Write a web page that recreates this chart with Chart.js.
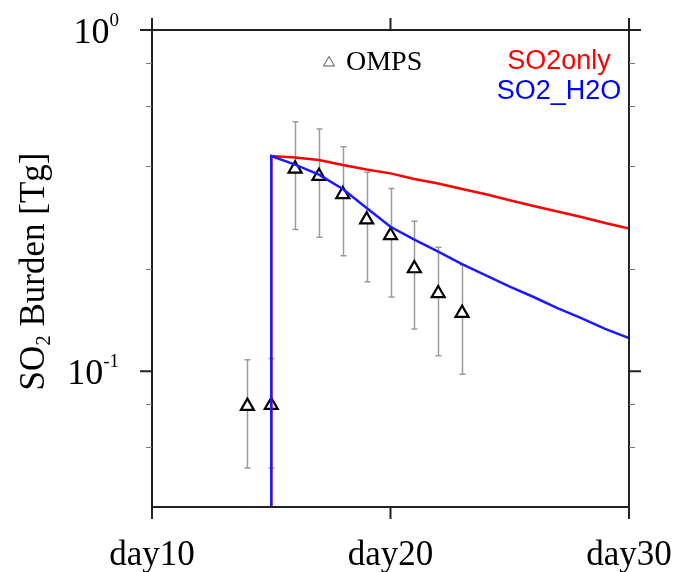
<!DOCTYPE html>
<html>
<head>
<meta charset="utf-8">
<script src="https://cdn.jsdelivr.net/npm/chart.js@4/dist/chart.umd.min.js"></script>
<style>
  html, body { margin: 0; padding: 0; background: #ffffff; }
  #wrap { width: 676px; height: 572px; }
</style>
</head>
<body>
<div id="wrap"><canvas id="c" width="676" height="572"></canvas></div>
<script>
// ---------------- data ----------------
const modelDays   = [15, 15, 16, 17, 18, 19, 20, 21, 22, 23, 24, 25, 26, 27, 28, 29, 30];
const so2only     = [0.001, 0.427, 0.423, 0.416, 0.402, 0.390, 0.380, 0.366, 0.355, 0.342, 0.330, 0.317, 0.305, 0.294, 0.283, 0.272, 0.262];
const so2h2o      = [0.001, 0.427, 0.403, 0.377, 0.342, 0.301, 0.265, 0.243, 0.224, 0.206, 0.191, 0.177, 0.165, 0.153, 0.143, 0.133, 0.125];

const ompsDays    = [14, 15, 16, 17, 18, 19, 20, 21, 22, 23];
const ompsValues  = [0.079, 0.0795, 0.392, 0.373, 0.330, 0.278, 0.250, 0.200, 0.169, 0.148];
const ompsHigh    = [0.108, 0.109, 0.538, 0.513, 0.455, 0.383, 0.343, 0.275, 0.231, 0.205];
const ompsLow     = [0.052, 0.052, 0.260, 0.247, 0.218, 0.183, 0.165, 0.133, 0.111, 0.098];

const xTicks      = [10, 20, 30];
const xTickLabels = ['day10', 'day20', 'day30'];
const yMajorTicks = [1, 0.1];
const yTickBase   = ['10', '10'];
const yTickExp    = ['0', '-1'];
const yMinorTicks = [0.8, 0.6, 0.4, 0.2, 0.08, 0.06];

const seriesNames = ['OMPS', 'SO2only', 'SO2_H2O'];
const yTitleMain  = 'SO';
const yTitleSub   = '2';
const yTitleRest  = ' Burden [Tg]';

// ---------------- chart ----------------
const SERIF = '"Liberation Serif", "Times New Roman", serif';
const SANS  = '"Liberation Sans", Arial, Helvetica, sans-serif';

const toXY = (xs, ys) => xs.map((x, i) => ({ x: x, y: ys[i] }));

const decorPlugin = {
  id: 'decor',
  beforeDatasetsDraw(chart) {
    const ctx = chart.ctx, xs = chart.scales.x, ys = chart.scales.y;
    ctx.save();
    ctx.strokeStyle = '#9a9a9a';
    ctx.lineWidth = 1.5;
    ompsDays.forEach((d, i) => {
      const px = Math.round(xs.getPixelForValue(d)) + 0.5;
      const yt = ys.getPixelForValue(ompsHigh[i]);
      const yb = ys.getPixelForValue(ompsLow[i]);
      ctx.beginPath();
      ctx.moveTo(px, yt); ctx.lineTo(px, yb);
      ctx.moveTo(px - 3, yt); ctx.lineTo(px + 3, yt);
      ctx.moveTo(px - 3, yb); ctx.lineTo(px + 3, yb);
      ctx.stroke();
    });
    ctx.restore();
  },
  afterDraw(chart) {
    const ctx = chart.ctx, xs = chart.scales.x, ys = chart.scales.y;
    const a = chart.chartArea;
    ctx.save();
    // frame
    ctx.strokeStyle = '#222';
    ctx.lineWidth = 2;
    ctx.strokeRect(a.left, a.top, a.right - a.left, a.bottom - a.top);
    // x major ticks (bottom & top, outward)
    ctx.beginPath();
    xTicks.forEach(v => {
      const px = xs.getPixelForValue(v);
      ctx.moveTo(px, a.bottom); ctx.lineTo(px, a.bottom + 12);
      ctx.moveTo(px, a.top);    ctx.lineTo(px, a.top - 12);
    });
    // y major ticks (left & right, outward)
    yMajorTicks.forEach(v => {
      const py = ys.getPixelForValue(v);
      ctx.moveTo(a.left, py);  ctx.lineTo(a.left - 12, py);
      ctx.moveTo(a.right, py); ctx.lineTo(a.right + 12, py);
    });
    ctx.stroke();
    // y minor ticks
    ctx.strokeStyle = '#777';
    ctx.lineWidth = 1;
    ctx.beginPath();
    yMinorTicks.forEach(v => {
      const py = Math.round(ys.getPixelForValue(v)) + 0.5;
      ctx.moveTo(a.left, py);  ctx.lineTo(a.left - 6, py);
      ctx.moveTo(a.right, py); ctx.lineTo(a.right + 6, py);
    });
    ctx.stroke();

    // x tick labels
    ctx.fillStyle = '#000';
    ctx.font = '35px ' + SERIF;
    ctx.textAlign = 'center';
    ctx.textBaseline = 'alphabetic';
    xTicks.forEach((v, i) => {
      ctx.fillText(xTickLabels[i], xs.getPixelForValue(v), 565);
    });

    // y tick labels (10 with superscript exponent), right aligned
    yMajorTicks.forEach((v, i) => {
      const py = ys.getPixelForValue(v);
      const right = a.left - 33;
      ctx.font = '19px ' + SERIF;
      const we = ctx.measureText(yTickExp[i]).width;
      ctx.font = '36px ' + SERIF;
      const wb = ctx.measureText(yTickBase[i]).width;
      ctx.textAlign = 'left';
      ctx.fillText(yTickBase[i], right - we - wb, py + 13);
      ctx.font = '19px ' + SERIF;
      ctx.fillText(yTickExp[i], right - we, py - 4);
    });

    // y axis title (rotated, with subscript)
    ctx.save();
    ctx.translate(44, (a.top + a.bottom) / 2 + 3);
    ctx.rotate(-Math.PI / 2);
    ctx.font = '35px ' + SERIF;
    const w1 = ctx.measureText(yTitleMain).width;
    const w3 = ctx.measureText(yTitleRest).width;
    ctx.font = '21px ' + SERIF;
    const w2 = ctx.measureText(yTitleSub).width;
    let x0 = -(w1 + w2 + w3) / 2;
    ctx.textAlign = 'left';
    ctx.font = '35px ' + SERIF;
    ctx.fillText(yTitleMain, x0, 0);
    ctx.font = '21px ' + SERIF;
    ctx.fillText(yTitleSub, x0 + w1, 6);
    ctx.font = '35px ' + SERIF;
    ctx.fillText(yTitleRest, x0 + w1 + w2, 0);
    ctx.restore();

    // legend: OMPS marker + text
    ctx.strokeStyle = '#555';
    ctx.lineWidth = 1;
    const lx = 329, ly = 62;
    ctx.beginPath();
    ctx.moveTo(lx, ly - 5.5); ctx.lineTo(lx + 5.5, ly + 4); ctx.lineTo(lx - 5.5, ly + 4); ctx.closePath();
    ctx.stroke();
    ctx.fillStyle = '#000';
    ctx.font = '28px ' + SERIF;
    ctx.textAlign = 'left';
    ctx.textBaseline = 'middle';
    ctx.fillText(seriesNames[0], 346, 63);
    // model legend (centered text)
    ctx.font = '27px ' + SANS;
    ctx.textAlign = 'center';
    ctx.fillStyle = '#ff0000';
    ctx.fillText(seriesNames[1], 559, 62);
    ctx.fillStyle = '#0000ff';
    ctx.fillText(seriesNames[2], 559, 92);
    ctx.restore();
  }
};

new Chart(document.getElementById('c'), {
  type: 'line',
  data: {
    datasets: [
      {
        label: seriesNames[2],
        data: toXY(modelDays, so2h2o),
        borderColor: '#1a1aff',
        borderWidth: 2.5,
        pointRadius: 0,
        tension: 0,
        fill: false,
        order: 0
      },
      {
        label: seriesNames[1],
        data: toXY(modelDays, so2only),
        borderColor: '#ff0000',
        borderWidth: 2.5,
        pointRadius: 0,
        tension: 0,
        fill: false,
        order: 1
      },
      {
        label: seriesNames[0],
        data: toXY(ompsDays, ompsValues),
        showLine: false,
        pointStyle: 'triangle',
        pointRadius: 7.5,
        pointBorderWidth: 2.2,
        pointBorderColor: '#000',
        pointBackgroundColor: '#fff',
        order: 2
      }
    ]
  },
  options: {
    responsive: false,
    animation: false,
    devicePixelRatio: 1,
    layout: { padding: { left: 152, right: 47, top: 30, bottom: 65 } },
    plugins: { legend: { display: false }, tooltip: { enabled: false } },
    scales: {
      x: { type: 'linear', min: 10, max: 30, display: false },
      y: { type: 'logarithmic', min: 0.04, max: 1, display: false }
    }
  },
  plugins: [decorPlugin]
});
</script>
</body>
</html>
